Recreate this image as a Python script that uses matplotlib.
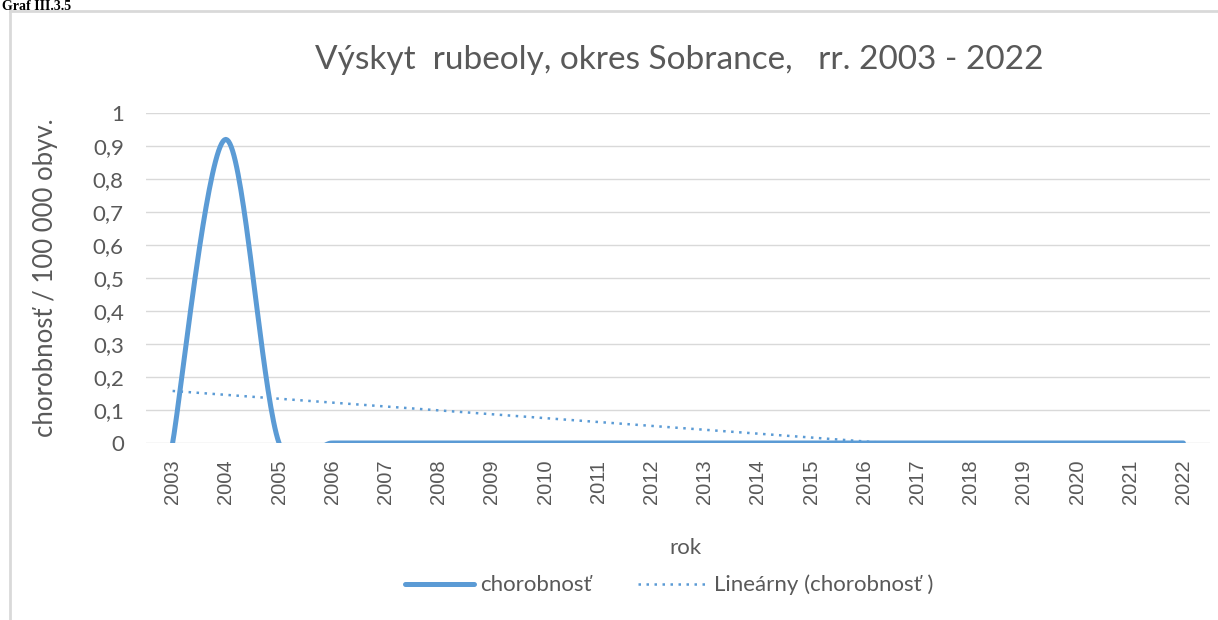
import numpy as np
import matplotlib.pyplot as plt
from matplotlib.lines import Line2D

years = list(range(2003, 2023))
chorobnost = [0, 0.92, 0, 0, 0, 0, 0, 0, 0, 0, 0, 0, 0, 0, 0, 0, 0, 0, 0, 0]
yticks = [0, 0.1, 0.2, 0.3, 0.4, 0.5, 0.6, 0.7, 0.8, 0.9, 1]
ylabels = ["0", "0,1", "0,2", "0,3", "0,4", "0,5", "0,6", "0,7", "0,8", "0,9", "1"]

blue = "#5B9BD5"
gray = "#595959"
plt.rcParams['font.family'] = ['Lato', 'DejaVu Sans']


def excel_smooth(x, y, n=40):
    # bezier smoothing like excel's "smoothed line"
    x = np.asarray(x, float)
    y = np.asarray(y, float)
    px = np.concatenate([[x[0]], x, [x[-1]]])
    py = np.concatenate([[y[0]], y, [y[-1]]])
    xs, ys = [], []
    t = np.linspace(0, 1, n)
    for i in range(len(x) - 1):
        p0 = np.array([px[i + 1], py[i + 1]])
        p3 = np.array([px[i + 2], py[i + 2]])
        c1 = p0 + (np.array([px[i + 2], py[i + 2]]) - np.array([px[i], py[i]])) / 6
        c2 = p3 - (np.array([px[i + 3], py[i + 3]]) - np.array([px[i + 1], py[i + 1]])) / 6
        for tt in t:
            b = ((1 - tt) ** 3 * p0 + 3 * (1 - tt) ** 2 * tt * c1
                 + 3 * (1 - tt) * tt ** 2 * c2 + tt ** 3 * p3)
            xs.append(b[0])
            ys.append(b[1])
    return np.array(xs), np.array(ys)


fig = plt.figure(figsize=(12.18, 6.2), dpi=100)
ax = fig.add_axes([146 / 1218, 1 - 443 / 620, (1210 - 146) / 1218, (443 - 113) / 620])

sx, sy = excel_smooth(years, chorobnost)
ax.plot(sx, sy, color=blue, lw=3.6, solid_capstyle="round")

# linear trendline
k, q = np.polyfit(years, chorobnost, 1)
tx = np.array([years[0], years[-1]], float)
ax.plot(tx, k * tx + q, color=blue, lw=1.8, linestyle=(0, (1, 2.2)))

ax.set_xlim(years[0] - 0.5, years[-1] + 0.5)
ax.set_ylim(0, 1)
ax.set_xticks(years)
ax.set_xticklabels([str(y) for y in years], rotation=90, fontsize=14.5, color=gray,
                   family="Liberation Sans")
ax.set_yticks(yticks)
ax.set_yticklabels(ylabels, fontsize=16, color=gray)
ax.tick_params(axis="y", length=0, pad=16)
ax.tick_params(axis="x", length=0, pad=12)
ax.grid(axis="y", color="#D9D9D9", lw=1)
ax.set_axisbelow(True)
for s in ax.spines.values():
    s.set_visible(False)

fig.text(679 / 1218, 1 - 60 / 620, "Výskyt  rubeoly, okres Sobrance,   rr. 2003 - 2022",
         ha="center", va="center", fontsize=24, color=gray)
fig.text(45 / 1218, 1 - 278 / 620, "chorobnosť / 100 000 obyv.", rotation=90,
         ha="center", va="center", fontsize=18.5, color=gray)
fig.text(685 / 1218, 1 - 548 / 620, "rok", ha="center", va="center", fontsize=16, color=gray)
fig.text(2 / 1218, 1, "Graf III.3.5", ha="left", va="top", fontsize=10,
         fontweight="bold", family="Liberation Serif")

# chart border
fig.add_artist(Line2D([10 / 1218, 1], [1 - 11 / 620, 1 - 11 / 620], color="#D9D9D9", lw=2))
fig.add_artist(Line2D([10 / 1218, 10 / 1218], [1 - 11 / 620, 0], color="#D9D9D9", lw=2))

handles = [Line2D([], [], color=blue, lw=3.6, solid_capstyle="round"),
           Line2D([], [], color=blue, lw=1.8, linestyle=(0, (1, 2.2)))]
leg = fig.legend(handles, ["chorobnosť", "Lineárny (chorobnosť )"], loc="center",
                 bbox_to_anchor=(669 / 1218, 1 - 585 / 620), ncol=2, frameon=False,
                 fontsize=16, handlelength=3.1, columnspacing=2.1, handletextpad=0.3)
for t in leg.get_texts():
    t.set_color(gray)

fig.savefig("out.png", dpi=100)
